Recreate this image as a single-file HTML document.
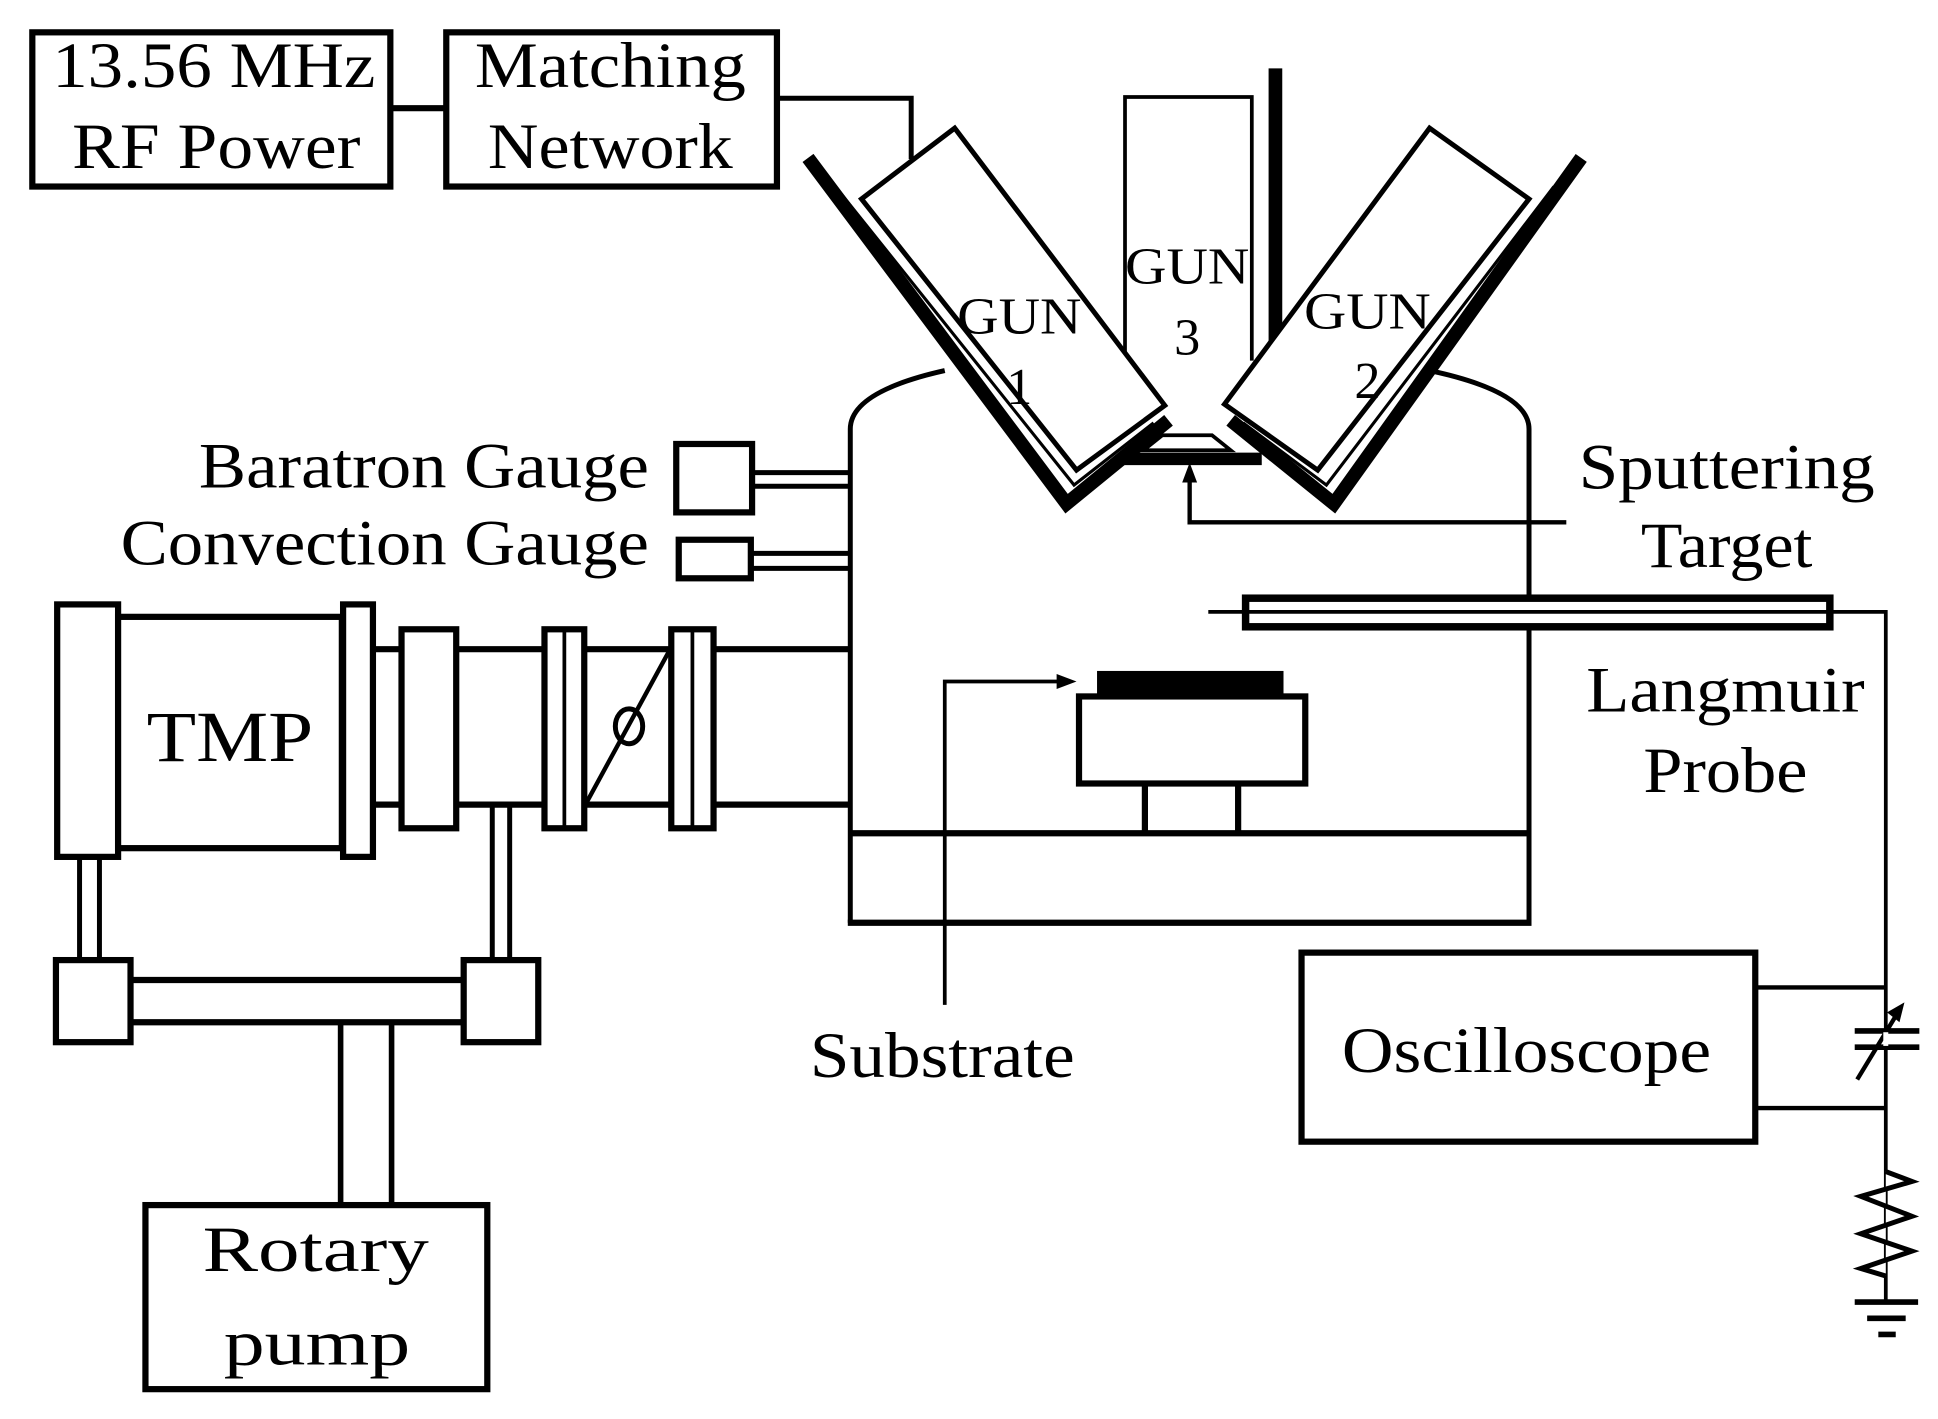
<!DOCTYPE html>
<html><head><meta charset="utf-8"><style>
html,body{margin:0;padding:0;background:#fff;}
svg{display:block;}
text{font-family:"Liberation Serif",serif;fill:#000;}
</style></head><body>
<svg width="1938" height="1419" viewBox="0 0 1559 1141" preserveAspectRatio="none" xmlns="http://www.w3.org/2000/svg">
<g fill="none" stroke="#000" stroke-width="5" stroke-linejoin="miter">
<rect x="26" y="26" width="288" height="124"/>
<rect x="359" y="26" width="266" height="124"/>
<line x1="314" y1="87" x2="359" y2="87"/>
<polyline points="625,79 733,79 733,128" stroke-width="4"/>

<path d="M684,742 L684,345 Q684,315 760,298" stroke-width="4"/>
<path d="M1230,742 L1230,345 Q1230,315 1150,298" stroke-width="4"/>
<line x1="682" y1="742" x2="1232" y2="742"/>
<line x1="684" y1="670" x2="1230" y2="670"/>

<polyline points="905,290 905,78 1007,78 1007,290" stroke-width="3" fill="#fff"/>
<line x1="1026" y1="55" x2="1026" y2="280" stroke-width="11"/>

<polygon points="693,160 768,103 937,326 866,378" stroke-width="4" fill="#fff"/>
<polygon points="985,325 1150,103 1230,160 1060,378" stroke-width="4" fill="#fff"/>

<polyline points="650,127 858,405 940,338" stroke-width="11" fill="none"/>
<polyline points="672,150 864,390 928,340" stroke-width="2.5"/>
<polyline points="1272,127 1073,405 990,338" stroke-width="11" fill="none"/>
<polyline points="1250,150 1067,390 1000,340" stroke-width="2.5"/>
<line x1="900" y1="369" x2="1015" y2="369" stroke-width="10"/>
<polygon points="935,350 975,350 990,362 920,362" stroke-width="3" fill="#fff"/>
<polyline points="1260,420 957,420 957,385" stroke-width="3.5"/>

<rect x="544" y="357" width="61" height="55"/>
<rect x="546" y="434" width="58" height="31"/>
<line x1="605" y1="380" x2="684" y2="380" stroke-width="4"/>
<line x1="605" y1="391" x2="684" y2="391" stroke-width="4"/>
<line x1="604" y1="445" x2="684" y2="445" stroke-width="4"/>
<line x1="604" y1="457" x2="684" y2="457" stroke-width="4"/>

<line x1="300" y1="522" x2="684" y2="522"/>
<line x1="300" y1="647" x2="684" y2="647"/>
<rect x="46" y="486" width="49" height="203" fill="#fff"/>
<rect x="95" y="496" width="180" height="186" fill="#fff"/>
<rect x="276" y="486" width="24" height="203" fill="#fff"/>
<rect x="323" y="506" width="44" height="160" fill="#fff"/>
<rect x="438" y="506" width="32" height="160" fill="#fff"/>
<line x1="454" y1="506" x2="454" y2="666" stroke-width="3"/>
<rect x="540" y="506" width="34" height="160" fill="#fff"/>
<line x1="557" y1="506" x2="557" y2="666" stroke-width="3"/>
<line x1="472" y1="645" x2="538" y2="524" stroke-width="3.5"/>
<ellipse cx="506" cy="584" rx="11" ry="14" stroke-width="4"/>

<line x1="64" y1="689" x2="64" y2="772" stroke-width="4"/>
<line x1="80" y1="689" x2="80" y2="772" stroke-width="4"/>
<line x1="396" y1="647" x2="396" y2="772" stroke-width="4"/>
<line x1="410" y1="647" x2="410" y2="772" stroke-width="4"/>
<rect x="45" y="772" width="60" height="66"/>
<rect x="373" y="772" width="60" height="66"/>
<line x1="105" y1="788" x2="373" y2="788"/>
<line x1="105" y1="822" x2="373" y2="822"/>
<line x1="274" y1="822" x2="274" y2="968" stroke-width="4.5"/>
<line x1="315" y1="822" x2="315" y2="968" stroke-width="4.5"/>
<rect x="117" y="969" width="275" height="148"/>

<rect x="868" y="560" width="182" height="70" fill="#fff"/>
<rect x="885" y="542" width="145" height="15" fill="#000"/>
<polyline points="921,630 921,670" />
<polyline points="996,630 996,670" />
<polyline points="760,808 760,548 855,548" stroke-width="3"/>

<rect x="1002" y="481" width="470" height="23" stroke-width="6" fill="#fff"/>
<polyline points="972,492 1517,492 1517,1045" stroke-width="3"/>

<rect x="1047" y="766" width="365" height="152"/>
<line x1="1412" y1="794" x2="1517" y2="794" stroke-width="3.5"/>
<line x1="1412" y1="891" x2="1517" y2="891" stroke-width="3.5"/>
<line x1="1492" y1="829" x2="1544" y2="829" stroke-width="4.5"/>
<line x1="1492" y1="842" x2="1544" y2="842" stroke-width="4.5"/>
<line x1="1494" y1="868" x2="1528" y2="812" stroke-width="3.5"/>
<polyline points="1517,942 1538,950 1497,962 1538,978 1497,992 1538,1006 1497,1020 1517,1026" stroke-width="4" fill="#fff"/>
<line x1="1492" y1="1047" x2="1543" y2="1047" stroke-width="4.5"/>
<line x1="1502" y1="1060" x2="1533" y2="1060" stroke-width="4.5"/>
<line x1="1511" y1="1073" x2="1525" y2="1073" stroke-width="4.5"/>
</g>
<g fill="#000" stroke="none">
<polygon points="957,372 951,388 963,388"/>
<polygon points="866,548 850,542 850,554"/>
<polygon points="1532,806 1518,814 1528,822"/>
<rect x="1515" y="830" width="4" height="11" fill="#fff"/>
</g>
<g font-size="52" text-anchor="middle" lengthAdjust="spacingAndGlyphs">
<text x="172" y="70" textLength="260" lengthAdjust="spacingAndGlyphs">13.56 MHz</text>
<text x="174" y="135" textLength="232" lengthAdjust="spacingAndGlyphs">RF Power</text>
<text x="491" y="70" textLength="218" lengthAdjust="spacingAndGlyphs">Matching</text>
<text x="491" y="135" textLength="197" lengthAdjust="spacingAndGlyphs">Network</text>
<text x="1389" y="393" textLength="238" lengthAdjust="spacingAndGlyphs">Sputtering</text>
<text x="1389" y="456" textLength="138" lengthAdjust="spacingAndGlyphs">Target</text>
<text x="1388" y="572" textLength="224" lengthAdjust="spacingAndGlyphs">Langmuir</text>
<text x="1388" y="637" textLength="132" lengthAdjust="spacingAndGlyphs">Probe</text>
<text x="758" y="866" textLength="213" lengthAdjust="spacingAndGlyphs">Substrate</text>
<text x="1228" y="862" textLength="297" lengthAdjust="spacingAndGlyphs">Oscilloscope</text>
<text x="254" y="1022" textLength="182" lengthAdjust="spacingAndGlyphs">Rotary</text>
<text x="255" y="1097" textLength="150" lengthAdjust="spacingAndGlyphs">pump</text>
</g>
<g font-size="52" text-anchor="end">
<text x="522" y="392" textLength="362" lengthAdjust="spacingAndGlyphs">Baratron Gauge</text>
<text x="522" y="454" textLength="425" lengthAdjust="spacingAndGlyphs">Convection Gauge</text>
</g>
<text x="185" y="612" font-size="58" text-anchor="middle" textLength="134" lengthAdjust="spacingAndGlyphs">TMP</text>
<g font-size="42" text-anchor="middle">
<text x="820" y="268" textLength="100" lengthAdjust="spacingAndGlyphs">GUN</text>
<text x="820" y="325">1</text>
<text x="955" y="228" textLength="100" lengthAdjust="spacingAndGlyphs">GUN</text>
<text x="955" y="285">3</text>
<text x="1100" y="264" textLength="102" lengthAdjust="spacingAndGlyphs">GUN</text>
<text x="1100" y="320">2</text>
</g>
</svg>
</body></html>
